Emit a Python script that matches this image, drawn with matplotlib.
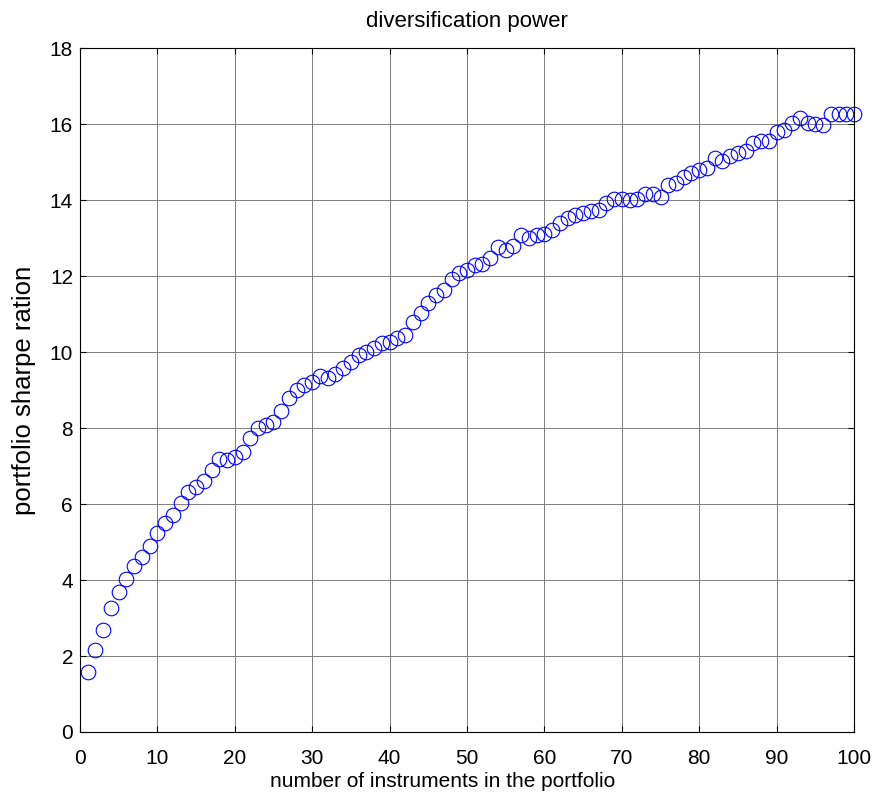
import matplotlib
matplotlib.use("Agg")
import matplotlib.pyplot as plt
import numpy as np

n_instruments = list(range(1, 101))
sharpe = [
    1.58, 2.16, 2.68, 3.26, 3.68, 4.03, 4.38, 4.60, 4.90, 5.25,
    5.50, 5.72, 6.03, 6.32, 6.44, 6.61, 6.89, 7.18, 7.15, 7.25,
    7.37, 7.73, 7.99, 8.08, 8.17, 8.44, 8.80, 9.00, 9.13, 9.20,
    9.38, 9.31, 9.42, 9.57, 9.75, 9.92, 10.00, 10.10, 10.23, 10.27,
    10.38, 10.45, 10.80, 11.04, 11.28, 11.50, 11.64, 11.91, 12.08, 12.17,
    12.28, 12.32, 12.48, 12.76, 12.69, 12.79, 13.08, 12.99, 13.08, 13.12,
    13.21, 13.39, 13.52, 13.60, 13.65, 13.70, 13.75, 13.93, 14.04, 14.04,
    14.00, 14.02, 14.16, 14.16, 14.09, 14.39, 14.46, 14.61, 14.72, 14.80,
    14.85, 15.12, 15.02, 15.17, 15.23, 15.28, 15.49, 15.56, 15.56, 15.78,
    15.84, 16.04, 16.16, 16.02, 16.00, 15.98, 16.26, 16.26, 16.26, 16.26,
]
xticks = list(range(0, 101, 10))
yticks = list(range(0, 19, 2))

plt.rcParams['font.family'] = ['Liberation Sans', 'DejaVu Sans']

fig = plt.figure(figsize=(8.77, 8.02), dpi=100)
ax = fig.add_axes([0.0912, 0.0873, 0.8826, 0.8527])

ax.plot(n_instruments, sharpe, linestyle='none', marker='o', markersize=10.5,
        markerfacecolor='none', markeredgecolor='#0000ff', markeredgewidth=0.8,
        clip_on=False)

ax.set_xlim(0, 100)
ax.set_ylim(0, 18)
ax.set_xticks(xticks)
ax.set_yticks(yticks)
ax.grid(True, color='#7f7f7f', linewidth=0.7, linestyle='-')
ax.set_axisbelow(True)
ax.tick_params(direction='in', top=True, right=True, length=4, width=0.8,
               labelsize=15)
ax.tick_params(axis='x', pad=12)
ax.tick_params(axis='y', pad=5)
for s in ax.spines.values():
    s.set_linewidth(0.8)

ax.set_title('diversification power', fontsize=16, pad=15)
ax.set_xlabel('number of instruments in the portfolio', fontsize=15)
ax.xaxis.set_label_coords(0.468, -0.058)
ax.set_ylabel('portfolio sharpe ration', fontsize=18.5, labelpad=10)

fig.savefig('out.png', dpi=100)
